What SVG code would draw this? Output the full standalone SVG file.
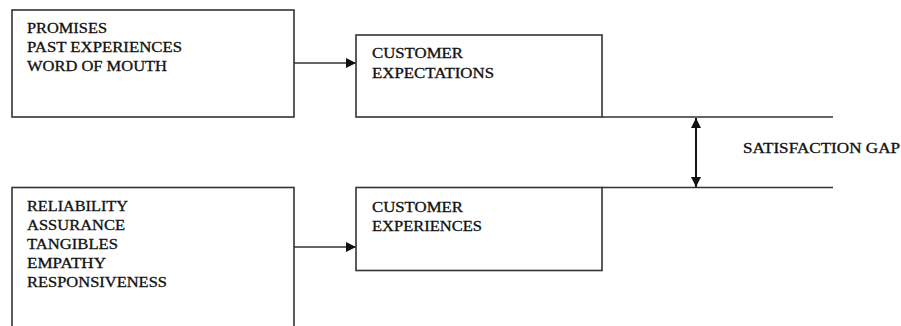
<svg xmlns="http://www.w3.org/2000/svg" width="901" height="326" viewBox="0 0 901 326">
<style>
.box{fill:#fff;stroke:#333;stroke-width:1.6}
.ln{fill:none;stroke:#333;stroke-width:1.6}
.dbl{fill:none;stroke:#111;stroke-width:2}
.t{font-family:"Liberation Serif",serif;font-size:14px;fill:#111;stroke:#111;stroke-width:0.3}
</style>
<defs>
<marker id="ah" viewBox="0 0 10 10" refX="10" refY="5" markerWidth="12" markerHeight="10" markerUnits="userSpaceOnUse" orient="auto-start-reverse">
<path d="M0,0 L10,5 L0,10 z" fill="#111"/>
</marker>
</defs>
<rect width="901" height="326" fill="#fff"/>
<g id="connectors">
<line class="ln" x1="602" y1="117" x2="833" y2="117"/>
<line class="ln" x1="602" y1="187.5" x2="833" y2="187.5"/>
<line class="ln" x1="294" y1="63" x2="356" y2="63" marker-end="url(#ah)"/>
<line class="ln" x1="294" y1="247" x2="356" y2="247" marker-end="url(#ah)"/>
<line class="dbl" x1="696" y1="118" x2="696" y2="187" marker-start="url(#ah)" marker-end="url(#ah)"/>
</g>
<g id="drivers-expect">
<rect class="box" x="12" y="10" width="282" height="107"/>
<text class="t" x="27" y="33" textLength="80" lengthAdjust="spacingAndGlyphs">PROMISES</text>
<text class="t" x="27" y="52" textLength="155" lengthAdjust="spacingAndGlyphs">PAST EXPERIENCES</text>
<text class="t" x="27" y="71" textLength="140" lengthAdjust="spacingAndGlyphs">WORD OF MOUTH</text>
</g>
<g id="customer-expectations">
<rect class="box" x="356" y="35" width="246" height="82"/>
<text class="t" x="372" y="57.5" textLength="91" lengthAdjust="spacingAndGlyphs">CUSTOMER</text>
<text class="t" x="372" y="77.5" textLength="122" lengthAdjust="spacingAndGlyphs">EXPECTATIONS</text>
</g>
<g id="drivers-exp">
<rect class="box" x="12" y="187.5" width="282" height="150"/>
<text class="t" x="27" y="211" textLength="101" lengthAdjust="spacingAndGlyphs">RELIABILITY</text>
<text class="t" x="27" y="230" textLength="98" lengthAdjust="spacingAndGlyphs">ASSURANCE</text>
<text class="t" x="27" y="249" textLength="91" lengthAdjust="spacingAndGlyphs">TANGIBLES</text>
<text class="t" x="27" y="268" textLength="79" lengthAdjust="spacingAndGlyphs">EMPATHY</text>
<text class="t" x="27" y="287" textLength="140" lengthAdjust="spacingAndGlyphs">RESPONSIVENESS</text>
</g>
<g id="customer-experiences">
<rect class="box" x="356" y="187.5" width="246" height="83"/>
<text class="t" x="372" y="211.5" textLength="91" lengthAdjust="spacingAndGlyphs">CUSTOMER</text>
<text class="t" x="372" y="230.5" textLength="110" lengthAdjust="spacingAndGlyphs">EXPERIENCES</text>
</g>
<g id="gap-label">
<text class="t" x="743" y="152.5" textLength="157" lengthAdjust="spacingAndGlyphs">SATISFACTION GAP</text>
</g>
</svg>
